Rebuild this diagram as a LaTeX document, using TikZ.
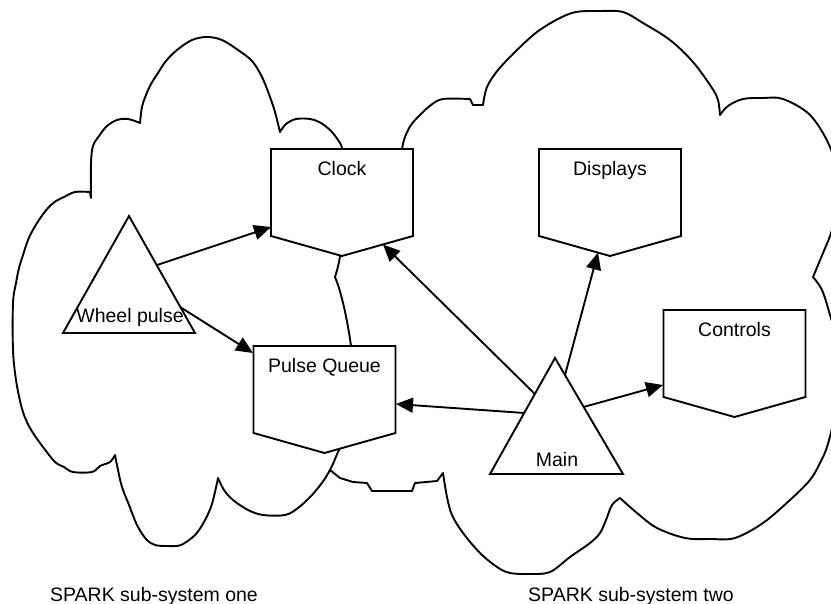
\documentclass[tikz,border=0pt]{standalone}
\usepackage{fontspec}
\setmainfont{Liberation Sans}
\usetikzlibrary{arrows.meta,calc}
\begin{document}
\begin{tikzpicture}[x=1pt,y=-1pt,
  outline/.style={line width=1.9pt, line join=miter},
  cloudline/.style={line width=1.9pt, line join=round, fill=white},
  boxnode/.style={minimum width=142pt, minimum height=87pt, inner sep=0pt, outer sep=0pt},
  boxshape/.style={outline, fill=white},
  lbl/.style={font=\fontsize{19.5pt}{23pt}\selectfont, inner sep=0pt, anchor=base},
  flow/.style={line width=1.9pt, -{Triangle[length=17pt,width=15pt]}},
  bump/.style={smooth, tension=0.55},
]
\useasboundingbox (0,0) rectangle (831,604);
\clip (0,0) rectangle (831,604);

% ---- sub-system two (drawn first, partly covered by sub-system one)
\filldraw[cloudline]
  (330,470) -- (318,455) -- (318,300) -- (330,250) -- (385,200) -- (400,165)
  -- plot[bump] coordinates {(400,165) (402,149) (405,137) (411,125) (420,115) (431,105) (443,99) (470,99)}
  -- (473,105) -- (483,105)
  -- plot[bump] coordinates {(483,105) (487,87) (498,70) (517,50) (537,32) (558,19) (576,12) (600,11) (623,12) (643,23) (670,40) (693,62) (712,88) (718,100) (720,115)}
  -- plot[bump] coordinates {(720,115) (728,106) (743,99) (763,98) (783,99) (810,115) (830,147) (842,190) (832,230) (823,253) (813,277)}
  -- plot[bump] coordinates {(813,277) (822,290) (830,315) (845,370) (834,420) (827,447) (820,463) (810,480) (790,500) (763,523) (735,538) (710,539) (685,538) (657,528) (637,513) (620,498)}
  -- plot[bump] coordinates {(620,498) (612,505) (606,520) (600,533) (590,543) (570,557) (550,572) (530,574) (510,573) (497,567) (480,553) (463,533) (452,515) (447,497) (443,473)}
  -- (437,481) -- (415,483) -- (412,491) -- (372,491) -- (367,483) -- (353,482) -- (340,478) -- cycle;

% ---- sub-system one
\filldraw[cloudline]
  plot[bump] coordinates {(91,198) (91,163) (93,146) (99,136) (107,126) (117,120) (128,119) (140,123)}
  -- plot[bump] coordinates {(140,123) (142,107) (146,95) (151,84) (158,73) (166,61) (177,50) (192,40) (207,37) (222,40) (238,50) (252,61) (262,77) (270,97) (275,112) (280,132)}
  -- plot[bump] coordinates {(280,132) (286,124) (296,119) (310,119) (321,123) (331,131) (338,140) (342,148) (346,170) (346,200) (343,235) (339,262) (335,277)}
  -- plot[bump] coordinates {(335,277) (339,288) (344,307) (348,327) (351,346) (355,380) (352,415) (344,440) (338,452) (332,466) (324,480) (312,495) (298,508) (285,515) (263,515) (248,510) (233,500) (224,490) (218,478)}
  -- plot[bump] coordinates {(218,478) (215,492) (211,507) (204,522) (195,535) (181,545) (168,546) (155,545) (146,539) (137,525) (129,505) (122,487) (118,470) (115,455)}
  -- plot[bump] coordinates {(115,455) (110,462) (100,466) (92,472) (73,472) (64,467) (55,462) (43,447) (33,433) (26,420) (21,405) (16,380) (13,350) (13,303) (16,283) (19,268) (23,255) (28,240) (34,228) (41,217) (48,208) (56,201) (64,197) (75,192) (90,192)}
  -- cycle;

% ---- data boxes
\node[boxnode] (clock)    at (342,192.5)   {};
\node[boxnode] (displays) at (610,192.5)   {};
\node[boxnode] (queue)    at (324.5,389.5) {};
\node[boxnode] (controls) at (734.5,353.5) {};
\foreach \b in {clock,displays,queue,controls}{
  \filldraw[boxshape] (\b.north west) -- (\b.north east) -- (\b.south east)
    -- ($(\b.south)+(0,20)$) -- (\b.south west) -- cycle;
}
\node[lbl] (clock-t)    at ($(clock.north)+(0,27)$)    {Clock};
\node[lbl] (displays-t) at ($(displays.north)+(0,27)$) {Displays};
\node[lbl] (queue-t)    at ($(queue.north)+(0,26.5)$)  {Pulse Queue};
\node[lbl] (controls-t) at ($(controls.north)+(0,26.5)$) {Controls};

% ---- tasks
\coordinate (wp-top) at (129,216);
\coordinate (wp-l)   at (63,333);
\coordinate (wp-r)   at (195,333);
\coordinate (mn-top) at (555,358);
\coordinate (mn-l)   at (490,474);
\coordinate (mn-r)   at (623,474);
\filldraw[outline, fill=white] (wp-top) -- (wp-r) -- (wp-l) -- cycle;
\filldraw[outline, fill=white] (mn-top) -- (mn-r) -- (mn-l) -- cycle;
\node[lbl] (wheel) at (130,323) {Wheel pulse};
\node[lbl] (main)  at (557,466) {Main};

% ---- connector end points
\coordinate (wp-a) at ($(wp-top)!0.42!(wp-r)$);
\coordinate (wp-b) at ($(wp-top)!0.78!(wp-r)$);
\coordinate (mn-a) at ($(mn-top)!0.31!(mn-l)$);
\coordinate (mn-b) at ($(mn-top)!0.474!(mn-l)$);
\coordinate (mn-c) at ($(mn-top)!0.147!(mn-r)$);
\coordinate (mn-d) at ($(mn-top)!0.422!(mn-r)$);
\coordinate (clock-in1)   at (271,227);
\coordinate (clock-in2)   at (383,244.5);
\coordinate (queue-in1)   at (253,353);
\coordinate (queue-in2)   at (396,404);
\coordinate (displays-in) at (598,252.6);
\coordinate (controls-in) at (663,385);

\draw[flow] (wp-a) -- (clock-in1);
\draw[flow] (wp-b) -- (queue-in1);
\draw[flow] (mn-a) -- (clock-in2);
\draw[flow] (mn-b) -- (queue-in2);
\draw[flow] (mn-c) -- (displays-in);
\draw[flow] (mn-d) -- (controls-in);

% ---- captions
\node[lbl] (cap-one) at (154,601.5) {SPARK sub-system one};
\node[lbl] (cap-two) at (631,601.5) {SPARK sub-system two};
\end{tikzpicture}
\end{document}
